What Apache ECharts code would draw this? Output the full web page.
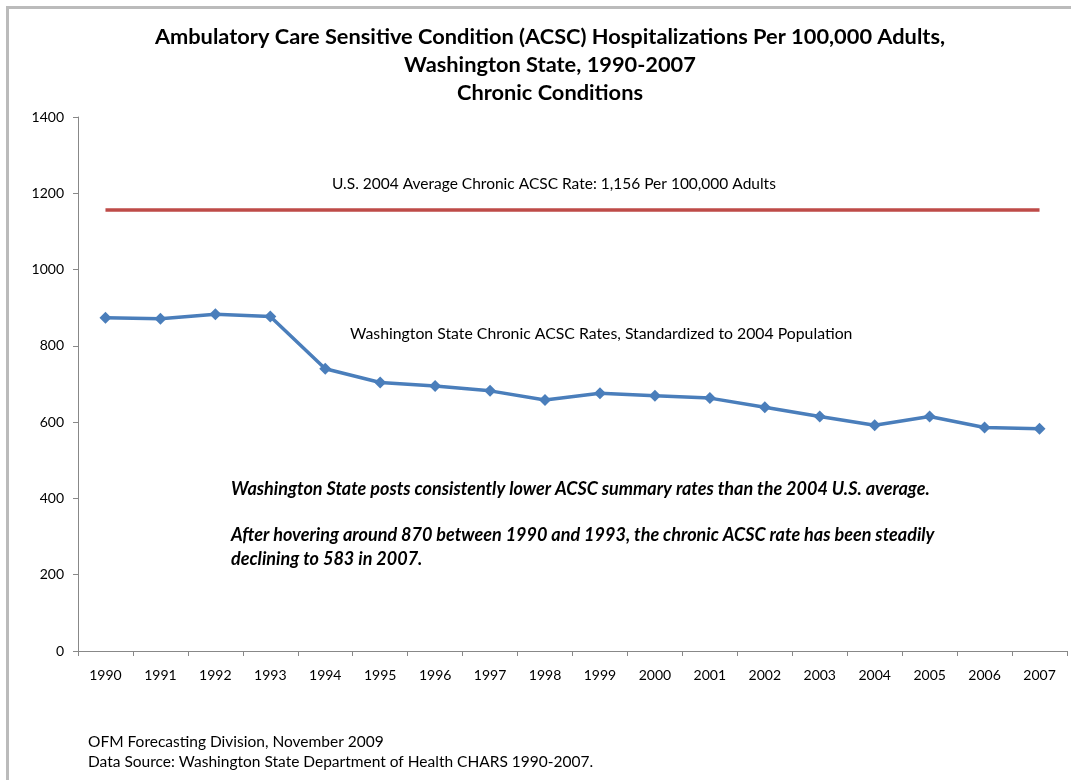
<!DOCTYPE html>
<html>
<head>
<meta charset="utf-8">
<script src="https://cdn.jsdelivr.net/npm/echarts@6/dist/echarts.min.js"></script>
<style>
  html, body { margin: 0; padding: 0; background: #fff; }
  #main { width: 1071px; height: 780px; }
</style>
</head>
<body>
<div id="main"></div>
<script>
  // values
  var years = ['1990','1991','1992','1993','1994','1995','1996','1997','1998',
               '1999','2000','2001','2002','2003','2004','2005','2006','2007'];
  var waRates = [874, 871, 883, 877, 740, 704, 695, 682, 658, 676, 669, 663, 639, 615, 592, 615, 586, 583];
  var usAverage = 1156;
  var usLine = years.map(function () { return usAverage; });
  var yTicks = [0, 200, 400, 600, 800, 1000, 1200, 1400];

  var font = 'Lato, "Open Sans", sans-serif';

  var option = {
    backgroundColor: '#fff',
    animation: false,
    title: {
      text: 'Ambulatory Care Sensitive Condition (ACSC) Hospitalizations Per 100,000 Adults,\nWashington State, 1990-2007\nChronic Conditions',
      left: 545,
      textAlign: 'center',
      top: 18,
      textStyle: { fontFamily: font, fontSize: 21.8, fontWeight: 'bold', color: '#000', lineHeight: 28 }
    },
    grid: { left: 78, right: 4, top: 117, bottom: 129 },
    xAxis: {
      type: 'category',
      data: years,
      boundaryGap: true,
      axisLine: { lineStyle: { color: '#888', width: 1 } },
      axisTick: { show: true, length: 5, interval: 0, lineStyle: { color: '#888' } },
      axisLabel: { fontFamily: font, fontSize: 14, color: '#000', margin: 17, interval: 0 },
      splitLine: { show: false }
    },
    yAxis: {
      type: 'value',
      min: yTicks[0],
      max: yTicks[yTicks.length - 1],
      interval: 200,
      axisLine: { show: true, lineStyle: { color: '#888', width: 1 } },
      axisTick: { show: true, length: 5, lineStyle: { color: '#888' } },
      axisLabel: { fontFamily: font, fontSize: 14, color: '#000', margin: 14, formatter: function (v) { return String(v); } },
      splitLine: { show: false }
    },
    series: [
      {
        name: 'U.S. 2004 Average',
        type: 'line',
        data: usLine,
        symbol: 'none',
        lineStyle: { color: '#BE4B48', width: 3.5 },
        itemStyle: { color: '#BE4B48' }
      },
      {
        name: 'Washington State',
        type: 'line',
        data: waRates,
        symbol: 'diamond',
        symbolSize: 12,
        lineStyle: { color: '#4A7EBB', width: 3.5 },
        itemStyle: { color: '#4A7EBB' }
      }
    ],
    graphic: [
      {
        type: 'rect', left: 5, top: 5, shape: { width: 1080, height: 800 },
        style: { fill: 'none', stroke: '#bbb', lineWidth: 3 }, silent: true
      },
      {
        type: 'text', left: 332, top: 176,
        style: { text: 'U.S. 2004 Average Chronic ACSC Rate: 1,156 Per 100,000 Adults', fontFamily: font, fontSize: 15.5, fill: '#000' }
      },
      {
        type: 'text', left: 350, top: 326,
        style: { text: 'Washington State Chronic ACSC Rates, Standardized to 2004 Population', fontFamily: font, fontSize: 15.8, fill: '#000' }
      },
      {
        type: 'text', left: 231, top: 480,
        style: { text: 'Washington State posts consistently lower ACSC summary rates than the 2004 U.S. average.', fontFamily: font, fontSize: 18, fontWeight: 'bold', fontStyle: 'italic', fill: '#000' }
      },
      {
        type: 'text', left: 231, top: 523,
        style: { text: 'After hovering around 870 between 1990 and 1993, the chronic ACSC rate has been steadily\ndeclining to 583 in 2007.', fontFamily: font, fontSize: 18, fontWeight: 'bold', fontStyle: 'italic', fill: '#000', lineHeight: 24 }
      },
      {
        type: 'text', left: 88, top: 732,
        style: { text: 'OFM Forecasting Division, November 2009\nData Source: Washington State Department of Health CHARS 1990-2007.', fontFamily: font, fontSize: 15.5, fill: '#000', lineHeight: 20 }
      }
    ]
  };

  var myChart = echarts.init(document.getElementById('main'));
  myChart.setOption(option);
</script>
</body>
</html>
